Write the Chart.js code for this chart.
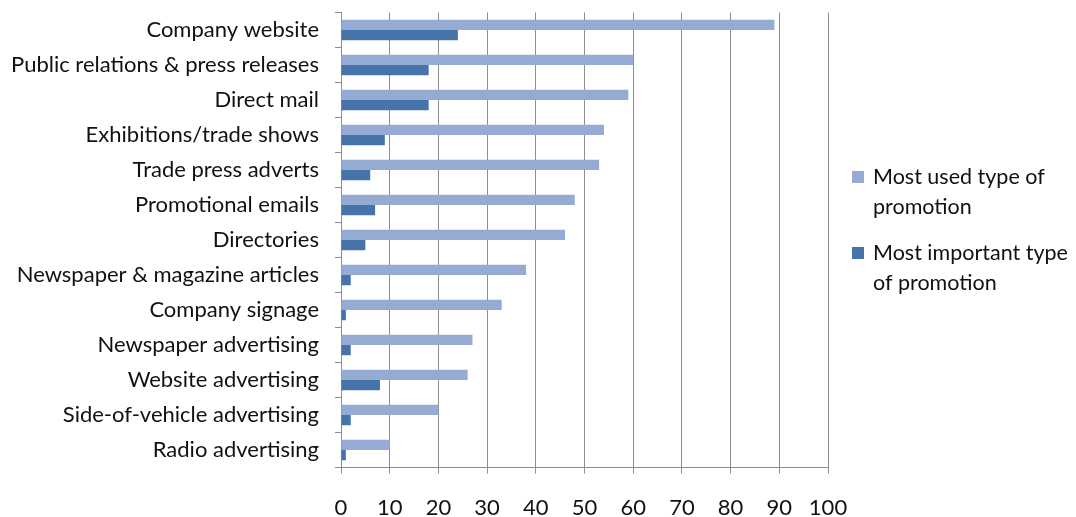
<!DOCTYPE html>
<html>
<head>
<meta charset="utf-8">
<script src="https://cdn.jsdelivr.net/npm/chart.js@4/dist/chart.umd.min.js"></script>
<style>
  html, body { margin: 0; padding: 0; background: #fff; }
  #wrap { width: 1076px; height: 517px; position: relative; }
</style>
</head>
<body>
<div id="wrap"><canvas id="c" width="1076" height="517"></canvas></div>
<script>
const categories = [
  "Company website",
  "Public relations & press releases",
  "Direct mail",
  "Exhibitions/trade shows",
  "Trade press adverts",
  "Promotional emails",
  "Directories",
  "Newspaper & magazine articles",
  "Company signage",
  "Newspaper advertising",
  "Website advertising",
  "Side-of-vehicle advertising",
  "Radio advertising"
];
const mostUsed =      [89, 60, 59, 54, 53, 48, 46, 38, 33, 27, 26, 20, 10];
const mostImportant = [24, 18, 18,  9,  6,  7,  5,  2,  1,  2,  8,  2,  1];
const seriesNames = [["Most used type of", "promotion"], ["Most important type", "of promotion"]];
const xTicks = [0, 10, 20, 30, 40, 50, 60, 70, 80, 90, 100];

const colUsed = "#95abd3";
const colImp = "#4674aa";
const gridCol = "#8e8e8e";
const FONT = "Lato, 'Liberation Sans', sans-serif";

const legendPlugin = {
  id: 'customLegend',
  afterDraw(chart) {
    const ctx = chart.ctx;
    const x0 = chart.chartArea.right + 24;
    const items = [
      { color: colUsed, lines: seriesNames[0], y: 177 },
      { color: colImp, lines: seriesNames[1], y: 253 }
    ];
    ctx.save();
    ctx.font = "21.5px " + FONT;
    ctx.textBaseline = "middle";
    ctx.textAlign = "left";
    items.forEach(it => {
      ctx.fillStyle = it.color;
      ctx.fillRect(x0, it.y - 6, 12, 12);
      ctx.fillStyle = "#111";
      it.lines.forEach((ln, i) => ctx.fillText(ln, x0 + 21, it.y + i * 30));
    });
    ctx.restore();
  }
};

new Chart(document.getElementById('c'), {
  type: 'bar',
  data: {
    labels: categories,
    datasets: [
      { label: seriesNames[0].join(' '), data: mostUsed, backgroundColor: colUsed, borderWidth: 0,
        categoryPercentage: 0.58, barPercentage: 1.0 },
      { label: seriesNames[1].join(' '), data: mostImportant, backgroundColor: colImp, borderWidth: 0,
        categoryPercentage: 0.58, barPercentage: 1.0 }
    ]
  },
  options: {
    indexAxis: 'y',
    responsive: false,
    animation: false,
    devicePixelRatio: 1,
    layout: { padding: { top: 12.5, right: 248, bottom: 0, left: 0 } },
    plugins: { legend: { display: false }, tooltip: { enabled: false } },
    scales: {
      x: {
        type: 'linear',
        position: 'bottom',
        min: 0, max: 100,
        afterBuildTicks(scale) { scale.ticks = xTicks.map(v => ({ value: v })); },
        afterFit(scale) { scale.height = 49.5; },
        grid: { color: gridCol, lineWidth: 1, tickLength: 6, drawOnChartArea: true, drawTicks: true },
        border: { display: true, color: gridCol },
        ticks: { color: "#111", padding: 23, font: { family: FONT, size: 22, lineHeight: 1 }, maxRotation: 0 }
      },
      y: {
        type: 'category',
        afterFit(scale) { scale.width = 341; scale.paddingTop = 0; scale.paddingBottom = 0; },
        grid: { offset: true, color: gridCol, drawOnChartArea: false, drawTicks: true, tickLength: 6 },
        border: { display: true, color: gridCol },
        ticks: { color: "#111", padding: 16, font: { family: FONT, size: 22 }, autoSkip: false }
      }
    }
  },
  plugins: [legendPlugin]
});
</script>
</body>
</html>
